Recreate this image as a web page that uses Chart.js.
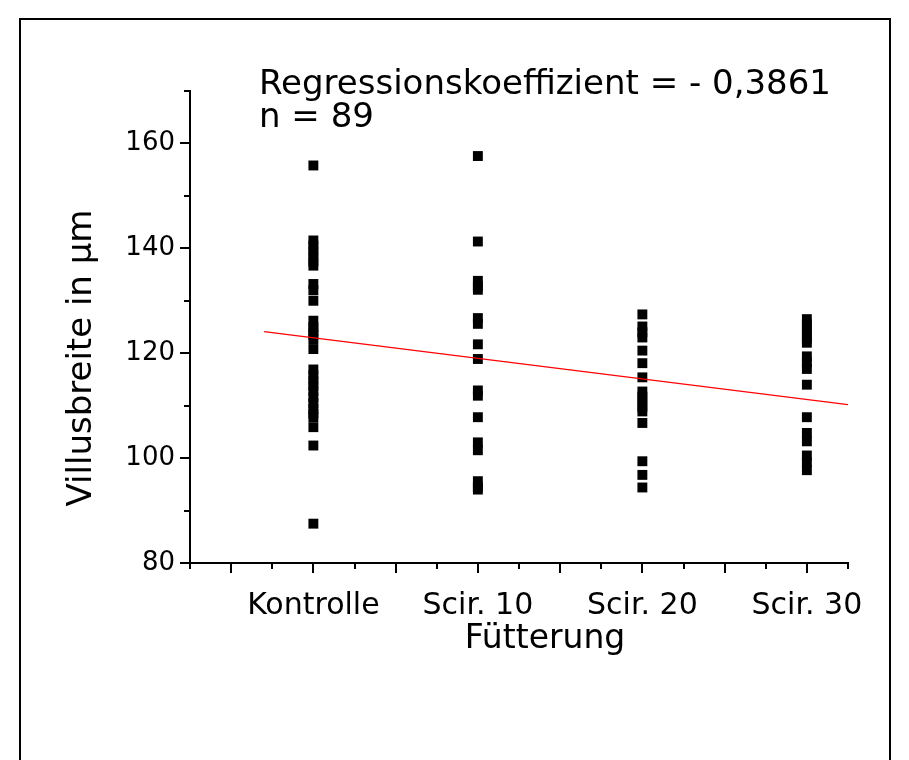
<!DOCTYPE html>
<html>
<head>
  <meta charset="UTF-8">
  <title>Villusbreite nach Fütterung</title>
  <script src="https://cdn.jsdelivr.net/npm/chart.js"></script>
  <style>
    html, body { margin: 0; padding: 0; background: #fff; }
    #wrap { width: 909px; height: 760px; }
  </style>
</head>
<body>
<div id="wrap"><canvas id="villusChart" width="909" height="760"></canvas></div>

<script>
  // Fütterungsgruppen (x = Scir.-Anteil in %)
  const groupNames = ['Kontrolle', 'Scir. 10', 'Scir. 20', 'Scir. 30'];
  const groupX = [0, 10, 20, 30];

  // Villusbreite in µm je Tier
  const kontrolle = [155.8, 141.5, 140.5, 139.5, 138.5, 137.5, 136.7, 133.2, 132.0, 130.0,
                     126.2, 125.0, 124.3, 123.5, 122.7, 120.8, 116.9, 115.8, 114.8, 113.8,
                     112.8, 111.6, 110.5, 109.4, 108.5, 107.8, 105.9, 102.4, 87.5];
  const scir10 = [157.6, 141.3, 133.8, 132.8, 132.1, 126.7, 125.6, 121.7, 118.9, 112.9,
                  111.9, 107.8, 103.0, 101.5, 95.6, 94.5, 94.0];
  const scir20 = [127.4, 125.1, 124.0, 123.0, 120.5, 118.1, 115.4, 112.7, 111.7, 110.8,
                  109.8, 108.9, 106.7, 99.4, 96.8, 94.4];
  const scir30 = [126.5, 125.5, 124.6, 123.6, 122.8, 122.0, 119.4, 118.2, 117.0, 114.0,
                  107.8, 104.8, 103.2, 100.5, 99.2, 97.7];

  // Regressionsgerade (Steigung -0,3861)
  const regX = [-3, 32.5];
  const regY = [124.1, 110.2];

  const yTickValues = [80, 100, 120, 140, 160];

  const allGroups = [kontrolle, scir10, scir20, scir30];
  const scatterPoints = [];
  allGroups.forEach(function(values, i) {
    values.forEach(function(v) { scatterPoints.push({ x: groupX[i], y: v }); });
  });
  const regPoints = regX.map(function(x, i) { return { x: x, y: regY[i] }; });

  const FONT = 'DejaVu Sans';

  // Achsenstriche (Haupt/Neben), Rahmen und Beschriftungen
  const extrasPlugin = {
    id: 'extras',
    beforeDraw(chart) {
      const ctx = chart.ctx;
      ctx.save();
      ctx.fillStyle = '#fff';
      ctx.fillRect(0, 0, chart.width, chart.height);
      ctx.strokeStyle = '#000';
      ctx.lineWidth = 2;
      ctx.strokeRect(20, 19, 870, 760);
      ctx.restore();
    },
    afterDraw(chart) {
      const ctx = chart.ctx;
      const xs = chart.scales.x, ys = chart.scales.y;
      const area = chart.chartArea;
      ctx.save();
      ctx.strokeStyle = '#000';
      ctx.lineWidth = 2;
      ctx.beginPath();
      for (let v = xs.min; v <= xs.max + 0.001; v += 2.5) {
        const px = Math.round(xs.getPixelForValue(v));
        const len = (Math.abs(v % 5) < 0.001) ? 10 : 6;
        ctx.moveTo(px, area.bottom);
        ctx.lineTo(px, area.bottom + len);
      }
      for (let v = ys.min; v <= ys.max + 0.001; v += 10) {
        const py = Math.round(ys.getPixelForValue(v));
        const len = (v % 20 === 0) ? 10 : 6;
        ctx.moveTo(area.left, py);
        ctx.lineTo(area.left - len, py);
      }
      ctx.stroke();

      ctx.fillStyle = '#000';
      ctx.textBaseline = 'alphabetic';
      ctx.font = '34px "' + FONT + '"';
      ctx.textAlign = 'left';
      ctx.fillText('Regressionskoeffizient = - 0,3861', 259, 94);
      ctx.fillText('n = 89', 259, 127);

      ctx.font = '33px "' + FONT + '"';
      ctx.textAlign = 'center';
      ctx.fillText('Fütterung', 545, 648);

      ctx.translate(91, 358);
      ctx.rotate(-Math.PI / 2);
      ctx.font = '34px "' + FONT + '"';
      ctx.fillText('Villusbreite in μm', 0, 0);
      ctx.restore();
    }
  };

  new Chart(document.getElementById('villusChart'), {
    type: 'scatter',
    data: {
      datasets: [
        {
          type: 'line',
          data: regPoints,
          borderColor: '#ff0000',
          borderWidth: 1.2,
          pointRadius: 0,
          fill: false,
          order: 0
        },
        {
          data: scatterPoints,
          pointStyle: 'rect',
          pointRadius: 7,
          pointBackgroundColor: '#000',
          pointBorderWidth: 0,
          order: 1
        }
      ]
    },
    options: {
      responsive: false,
      animation: false,
      layout: { padding: { left: 0, right: 61, top: 91, bottom: 0 } },
      plugins: { legend: { display: false }, tooltip: { enabled: false } },
      scales: {
        x: {
          type: 'linear',
          min: -7.5,
          max: 32.5,
          afterFit(s) { s.height = 197; },
          afterBuildTicks(s) { s.ticks = groupX.map(function(v) { return { value: v }; }); },
          grid: { display: false, drawTicks: false },
          border: { display: true, color: '#000', width: 2 },
          ticks: {
            padding: 25,
            maxRotation: 0,
            autoSkip: false,
            color: '#000',
            font: { family: FONT, size: 30 },
            callback: function(value) {
              const i = groupX.indexOf(value);
              return i >= 0 ? groupNames[i] : '';
            }
          }
        },
        y: {
          min: 80,
          max: 170,
          afterFit(s) { s.width = 190; },
          afterBuildTicks(s) { s.ticks = yTickValues.map(function(v) { return { value: v }; }); },
          grid: { display: false, drawTicks: false },
          border: { display: true, color: '#000', width: 2 },
          ticks: {
            padding: 15,
            color: '#000',
            font: { family: FONT, size: 26 }
          }
        }
      }
    },
    plugins: [extrasPlugin]
  });
</script>
</body>
</html>
